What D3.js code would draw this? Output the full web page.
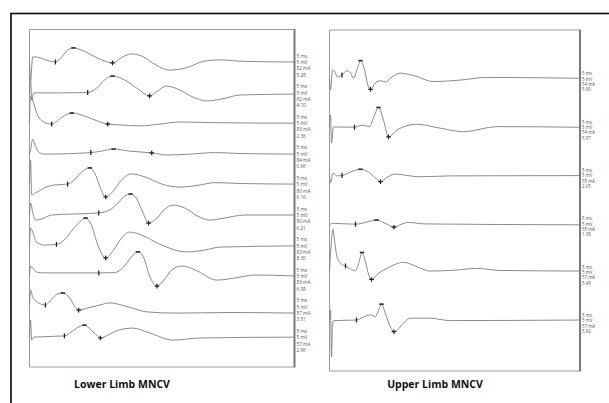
<!DOCTYPE html>
<html lang="en">
<head>
  <meta charset="UTF-8">
  <title>MNCV</title>
  <script src="https://d3js.org/d3.v7.min.js"></script>
  <style>
    body { margin: 0; background: #fff; }
  </style>
</head>
<body>
  <script>
    // ---- data: [time ms, amplitude mV] per trace ----
    const lowerTraces = [
      [[0,0],[0.2,-6],[0.6,1.7],[1.1,1.7],[2.3,1.2],[3.8,0.3],[4.9,0],[6.1,1.7],[7.2,4],[8.3,4.7],[10.2,3.7],[12.9,1.3],[15.7,-0.3],[17.6,1.7],[19.3,2.7],[21.2,2],[23.9,-1],[26.5,-2.7],[29.5,-2],[33.1,0.3],[36,0.7],[40.7,0.2],[50,0]],
      [[0,-0.5],[0.2,4.9],[0.4,-2.5],[0.8,-0.1],[5.7,-0.1],[11,0],[12.7,1.5],[14.2,4.2],[15.7,5.5],[18,4.2],[20.5,1.2],[22.7,-1.1],[24.2,0.5],[25.9,2.2],[28,1.2],[30.9,-1.5],[33.5,-2.8],[36.4,-2.1],[39.8,-0.8],[50,-0.5]],
      [[0,0],[0.2,9],[0.6,7.7],[1.5,2.7],[2.7,0.4],[4.2,-0.3],[5.7,1.4],[6.8,2.7],[8,3.4],[10.4,2.4],[12.9,0.7],[14.8,-0.3],[17.4,-0.6],[20.8,-0.9],[24.6,-0.3],[28.4,0.4],[34.1,0.2],[50,0]],
      [[0,-0.1],[0.2,1.3],[0.6,4.9],[0.9,3.6],[1.7,0.6],[2.8,-0.1],[11.6,0.4],[13.6,0.9],[15.9,1.6],[18.9,0.9],[23.1,0.3],[26.1,-0.4],[30.3,-0.1],[35,0.4],[39.8,0.1],[50,-0.1]],
      [[0,0.1],[0.2,8.1],[0.4,-3.5],[1.1,-2.9],[2.8,-1.2],[4.7,-0.2],[7.2,0.1],[8.5,1.5],[9.8,4.1],[11.4,5.5],[12.5,3.1],[13.4,-1.2],[14.4,-4.2],[15.7,-2.5],[17.4,1.5],[19.3,3.5],[21.8,2.5],[25,0.1],[28.4,-0.9],[32.2,-0.2],[35,0.6],[39.8,0.3],[50,0.1]],
      [[0,0],[0.2,4],[0.6,1],[1.1,-1.7],[2.3,-1.3],[4.2,0],[13.1,0.7],[15.2,1.7],[16.7,4],[18,6.3],[19.1,7],[20.3,5.3],[21.4,1],[22.5,-2.7],[24.1,-1],[25.6,2],[27.1,3.3],[29.4,2.3],[31.7,-0.3],[34.1,-1.7],[36.9,-1],[40.7,0],[50,0]],
      [[0,-0.1],[0.2,5.9],[0.6,4.5],[1.3,1.2],[2.8,0.2],[5.1,0.4],[6.6,1.9],[8.1,5.2],[9.5,7.9],[10.6,9.2],[11.7,6.9],[12.9,0.2],[14.4,-4.1],[15.9,-1.5],[17.4,2.5],[18.9,4.5],[21.2,3.5],[24.6,0.5],[29.7,-2.1],[33.1,-1.5],[36,-0.5],[50,-0.1]],
      [[0,0.1],[0.2,3.4],[0.6,2.7],[1.3,1.4],[2.8,1.1],[13.1,1.1],[16.1,1.2],[17.8,3.1],[19.1,6.1],[20.5,8.1],[21.6,6.1],[22.7,0.1],[24.1,-3.3],[25.4,-1.3],[26.9,2.1],[28.8,3.4],[31.3,2.1],[35.4,-1.3],[38.8,-0.6],[42.6,0.4],[50,0.1]],
      [[0,0.3],[0.2,5.6],[0.6,3.3],[1.7,1.3],[3,0.6],[4.2,2.6],[5.3,4.3],[6.3,4.6],[7.6,2.9],[8.5,0.3],[9.3,-1.1],[11,-0.4],[13.3,0.6],[15.2,1.3],[18,0.3],[22.2,-1.7],[27.5,-2.1],[37.9,-1.9],[50,-2.1]],
      [[0,0.1],[0.2,5.8],[0.4,-0.9],[0.8,0.1],[6.6,0.5],[7.9,1.8],[9.3,3.5],[10.4,4.1],[11.6,2.5],[12.5,1.1],[13.4,-0.2],[15.2,1.1],[17,2.5],[19.5,3.1],[22.7,1.5],[27.1,-0.9],[32.2,-0.2],[50,0.1]]
    ];
    const lowerOnset  = [4.9, 11, 4.2, 11.6, 7.2, 13.1, 5.1, 13.1, 3, 6.6];
    const lowerPeak   = [8.3, 15.7, 8, 15.9, 11.4, 19.1, 10.6, 20.5, 6.3, 10.4];
    const lowerTrough = [15.7, 22.7, 14.8, 23.1, 14.4, 22.5, 14.4, 24.1, 9.3, 13.4];
    const lowerMA  = [82, 82, 83, 84, 80, 80, 83, 83, 57, 57];
    const lowerAmp = ["5.28", "4.10", "2.36", "0.66", "6.16", "6.21", "8.30", "6.98", "3.51", "2.96"];

    const upperTraces = [
      [[0,0.1],[0.2,-3.9],[0.6,2.8],[1,2.4],[1.6,0.4],[2.5,1.1],[3.5,2.5],[4.2,1.8],[4.8,0],[5.6,3.4],[6.2,5.9],[7,2.8],[7.6,-1.9],[8.2,-3.7],[9.2,-1.5],[10.2,-0.8],[11.2,-1.2],[12.5,0.4],[14.1,1.7],[17.1,0.8],[20.7,-1.1],[26.1,-0.6],[31.5,0.3],[50,0]],
      [[0,-0.1],[0.2,3.9],[0.4,-5.5],[0.8,-0.1],[5,-0.2],[5.8,0.2],[6.8,0.5],[8,0],[8.8,2.9],[9.8,6.4],[10.8,2.2],[11.8,-3.4],[13.5,-1.1],[17.5,0.8],[22.1,-0.5],[26.8,-1.7],[33.5,0],[50,-0.2]],
      [[0,-0.3],[0.2,-2.7],[0.7,0.6],[1.4,-0.3],[2.5,-0.2],[4.2,1],[6.2,1.9],[7.8,1],[9.2,-1],[10.2,-2.2],[11.6,-0.7],[13,0.3],[18.1,-0.6],[24.1,-0.3],[50,-0.2]],
      [[0,-0.6],[0.6,0],[5.2,-0.3],[7.4,0.4],[9.4,1.1],[11.4,-0.2],[12.9,-1.3],[14.5,-0.2],[15.8,0.3],[19.1,-0.2],[50,-0.5]],
      [[0,0.2],[0.4,10.5],[0.7,14.1],[1,10.5],[1.5,5],[2.4,2.5],[3.2,1.9],[4.2,0.9],[5.2,0.3],[5.9,3.2],[6.5,6.4],[7.2,3.2],[7.8,-0.8],[8.4,-2.6],[9.8,-0.5],[11.5,1.1],[14.8,3.1],[17.7,1.5],[20.1,0.2],[25.1,0.5],[29.4,1.1],[34.1,0.4],[50,0.2]],
      [[0,0],[0.2,3.3],[0.4,-12.3],[0.6,-1.7],[0.8,-0.2],[5.4,0],[6.8,1],[8.2,1.7],[9.2,1.1],[9.8,3.3],[10.4,5.3],[11.2,2],[12.2,-2.3],[12.9,-3.9],[14.8,-1.1],[16.1,0.6],[20.1,0.6],[24.1,-0.2],[50,0]]
    ];
    const upperOnset  = [2.5, 5, 2.5, 5.2, 3.2, 5.4];
    const upperPeak   = [6.2, 9.8, 6.2, 9.4, 6.5, 10.4];
    const upperTrough = [8.2, 11.8, 10.2, 12.9, 8.4, 12.9];
    const upperMA  = [54, 54, 55, 55, 57, 57];
    const upperAmp = ["5.80", "5.97", "2.65", "1.38", "5.49", "5.82"];

    const sweep = "5 ms", gain = "5 mV";
    const titles = ["Lower Limb MNCV", "Upper Limb MNCV"];

    const width = 609, height = 403;

    const svg = d3.select("body").append("svg")
      .attr("width", width)
      .attr("height", height);

    // outer frame
    svg.append("rect")
      .attr("x", 11).attr("y", 13.5)
      .attr("width", 700).attr("height", 500)
      .attr("fill", "none")
      .attr("stroke", "#151515")
      .attr("stroke-width", 1.7);

    function drawPanel(cfg) {
      const x = d3.scaleLinear().domain([0, 50]).range([cfg.left, cfg.right]);
      const row = d3.scalePoint().domain(d3.range(cfg.traces.length)).range(cfg.rows);
      const mv = d3.scaleLinear().domain([0, 1]).range([0, -3]);

      const g = svg.append("g");

      // panel border
      g.append("path")
        .attr("d", `M${cfg.right},${cfg.top}H${cfg.left}V${cfg.bottom}H${cfg.right}`)
        .attr("fill", "none")
        .attr("stroke", "#9a9a9a")
        .attr("stroke-width", 1);
      g.append("line")
        .attr("x1", cfg.right + 0.5).attr("x2", cfg.right + 0.5)
        .attr("y1", cfg.top - 0.5).attr("y2", cfg.bottom + 0.5)
        .attr("stroke", "#7a7a7a")
        .attr("stroke-width", 2);

      cfg.traces.forEach(function (pts, i) {
        const base = row(i);
        const y = v => base + mv(v);
        const line = d3.line()
          .x(d => x(d[0]))
          .y(d => y(d[1]))
          .curve(d3.curveMonotoneX);

        g.append("path")
          .datum(pts)
          .attr("d", line)
          .attr("fill", "none")
          .attr("stroke", "#7d7d7d")
          .attr("stroke-width", 0.9);

        const at = t => pts.find(p => p[0] === t);
        const on = at(cfg.onset[i]), pk = at(cfg.peak[i]), tr = at(cfg.trough[i]);

        // onset marker |
        g.append("line")
          .attr("x1", x(on[0])).attr("x2", x(on[0]))
          .attr("y1", y(on[1]) - 2.5).attr("y2", y(on[1]) + 2.5)
          .attr("stroke", "#222").attr("stroke-width", 1.3);
        // peak marker -
        g.append("line")
          .attr("x1", x(pk[0]) - 2.2).attr("x2", x(pk[0]) + 2.2)
          .attr("y1", y(pk[1])).attr("y2", y(pk[1]))
          .attr("stroke", "#222").attr("stroke-width", 1.5);
        // trough marker +
        g.append("path")
          .attr("d", `M${x(tr[0]) - 2.3},${y(tr[1])}h4.6M${x(tr[0])},${y(tr[1]) - 2.3}v4.6`)
          .attr("stroke", "#222").attr("stroke-width", 1.2);

        // settings text
        const lines = [sweep, gain, cfg.mA[i] + " mA", cfg.amp[i]];
        g.append("g")
          .selectAll("text")
          .data(lines)
          .join("text")
          .attr("x", cfg.right + 2.5)
          .attr("y", (d, k) => base + cfg.labelOff + k * cfg.labelStep + 1.6)
          .attr("font-family", "'Open Sans', sans-serif")
          .attr("font-size", cfg.labelSize)
          .attr("fill", "#555")
          .text(d => d);
      });

      svg.append("text")
        .attr("x", cfg.titleX)
        .attr("y", 388)
        .attr("text-anchor", "middle")
        .attr("font-family", "'Open Sans', sans-serif")
        .attr("font-weight", "bold")
        .attr("font-size", 10.5)
        .attr("fill", "#111")
        .text(cfg.title);
    }

    drawPanel({
      traces: lowerTraces, onset: lowerOnset, peak: lowerPeak, trough: lowerTrough,
      mA: lowerMA, amp: lowerAmp,
      left: 29.5, right: 294, top: 29.5, bottom: 367,
      rows: [62, 337.4],
      labelOff: -6, labelStep: 6.3, labelSize: 4.7,
      title: titles[0], titleX: 122
    });

    drawPanel({
      traces: upperTraces, onset: upperOnset, peak: upperPeak, trough: upperTrough,
      mA: upperMA, amp: upperAmp,
      left: 329.5, right: 579.5, top: 30, bottom: 371,
      rows: [78.3, 320],
      labelOff: -4.5, labelStep: 5.3, labelSize: 4.4,
      title: titles[1], titleX: 435
    });
  </script>
</body>
</html>
